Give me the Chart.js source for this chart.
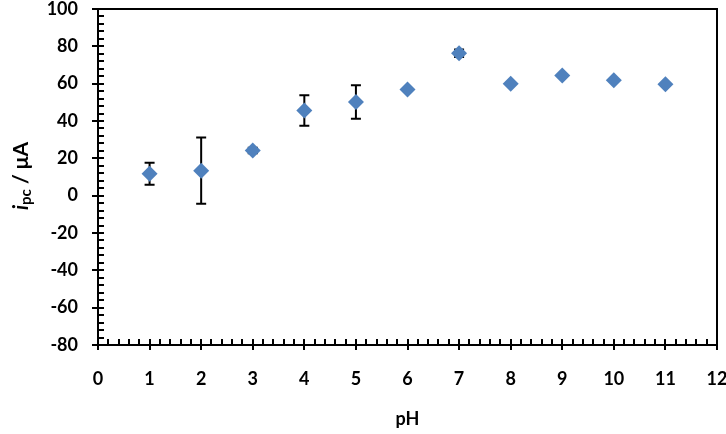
<!DOCTYPE html>
<html lang="en">
<head>
  <meta charset="UTF-8" />
  <title>ipc vs pH</title>
  <script src="https://cdn.jsdelivr.net/npm/chart.js"></script>
  <style>
    html, body { margin: 0; padding: 0; background: #fff; }
    #wrap { width: 726px; height: 434px; }
  </style>
</head>
<body>
  <div id="wrap"><canvas id="phChart" width="726" height="434"></canvas></div>

  <script>
    // data
    const pH = [1, 2, 3, 4, 5, 6, 7, 8, 9, 10, 11];
    const ipc = [11.8, 13.4, 24.2, 45.6, 50.2, 56.9, 76.3, 60.0, 64.4, 61.8, 59.7];
    const ipcErr = [5.9, 17.7, 1.5, 8.2, 9.0, 0.8, 2.0, 0.5, 0.6, 0.5, 0.5];

    const FONT = "Lato";

    // error bars, box, in/out tick marks and the y title with subscript
    const decor = {
      id: "decor",
      beforeDatasetsDraw(chart) {
        const { ctx } = chart;
        const xs = chart.scales.x, ys = chart.scales.y;
        ctx.save();
        ctx.strokeStyle = "#000";
        ctx.lineWidth = 2;
        pH.forEach((v, i) => {
          const x = xs.getPixelForValue(v);
          const y1 = ys.getPixelForValue(ipc[i] + ipcErr[i]);
          const y2 = ys.getPixelForValue(ipc[i] - ipcErr[i]);
          ctx.beginPath();
          ctx.moveTo(x, y1); ctx.lineTo(x, y2);
          ctx.moveTo(x - 5, y1); ctx.lineTo(x + 5, y1);
          ctx.moveTo(x - 5, y2); ctx.lineTo(x + 5, y2);
          ctx.stroke();
        });
        ctx.restore();
      },
      afterDraw(chart) {
        const { ctx, chartArea: a } = chart;
        const xs = chart.scales.x, ys = chart.scales.y;
        ctx.save();
        ctx.strokeStyle = "#000";
        ctx.lineWidth = 2;
        ctx.beginPath();
        // top and right frame
        ctx.moveTo(a.left, a.top); ctx.lineTo(a.right, a.top); ctx.lineTo(a.right, a.bottom);
        // x ticks
        for (let k = 0; k <= 60; k++) {
          const v = xs.min + k * 0.2;
          const x = Math.round(xs.getPixelForValue(v));
          if (k % 5 === 0) { ctx.moveTo(x, a.bottom - 6); ctx.lineTo(x, a.bottom + 5); }
          else { ctx.moveTo(x, a.bottom - 6); ctx.lineTo(x, a.bottom); }
        }
        // y ticks
        for (let k = 0; k <= 45; k++) {
          const v = ys.min + k * 4;
          const y = Math.round(ys.getPixelForValue(v));
          if (k % 5 === 0) { ctx.moveTo(a.left - 6, y); ctx.lineTo(a.left + 6, y); }
          else { ctx.moveTo(a.left, y); ctx.lineTo(a.left + 6, y); }
        }
        ctx.stroke();

        // y title: i_pc / μA
        ctx.translate(21, 176);
        ctx.rotate(-Math.PI / 2);
        ctx.fillStyle = "#000";
        ctx.textBaseline = "middle";
        const parts = [
          { t: "i", f: `italic bold 21px ${FONT}`, dy: 0 },
          { t: "pc", f: `bold 15px ${FONT}`, dy: 5 },
          { t: " / μA", f: `bold 21px ${FONT}`, dy: 0 }
        ];
        let total = 0;
        parts.forEach(p => { ctx.font = p.f; p.w = ctx.measureText(p.t).width; total += p.w; });
        let cx = -total / 2;
        parts.forEach(p => { ctx.font = p.f; ctx.fillText(p.t, cx, p.dy); cx += p.w; });
        ctx.restore();
      }
    };

    // drop the label overflow padding so the plot box sits where the reference has it
    const noPad = s => { s.paddingTop = 0; s.paddingBottom = 0; s.paddingLeft = 0; s.paddingRight = 0; };

    new Chart(document.getElementById("phChart"), {
      type: "scatter",
      data: {
        datasets: [{
          data: pH.map((v, i) => ({ x: v, y: ipc[i] })),
          pointStyle: "rectRot",
          pointRadius: 8,
          backgroundColor: "#4F81BD",
          borderColor: "#4F81BD",
          borderWidth: 0,
          showLine: false
        }]
      },
      options: {
        responsive: false,
        animation: false,
        layout: { padding: { left: 0, right: 9, top: 9, bottom: 0 } },
        plugins: { legend: { display: false }, tooltip: { enabled: false } },
        scales: {
          x: {
            min: 0, max: 12,
            grid: { display: false, drawTicks: false },
            border: { color: "#000", width: 2 },
            ticks: { stepSize: 1, color: "#000", padding: 23, font: { family: FONT, size: 18, weight: "bold" } },
            title: { display: true, text: "pH", color: "#000", padding: { top: 19 }, font: { family: FONT, size: 18, weight: "bold" } },
            afterFit: s => { s.height = 89; noPad(s); }
          },
          y: {
            min: -80, max: 100,
            grid: { display: false, drawTicks: false },
            border: { color: "#000", width: 2 },
            ticks: { stepSize: 20, color: "#000", padding: 20, font: { family: FONT, size: 18, weight: "bold" } },
            afterFit: s => { s.width = 98; noPad(s); }
          }
        }
      },
      plugins: [decor]
    });
  </script>
</body>
</html>
